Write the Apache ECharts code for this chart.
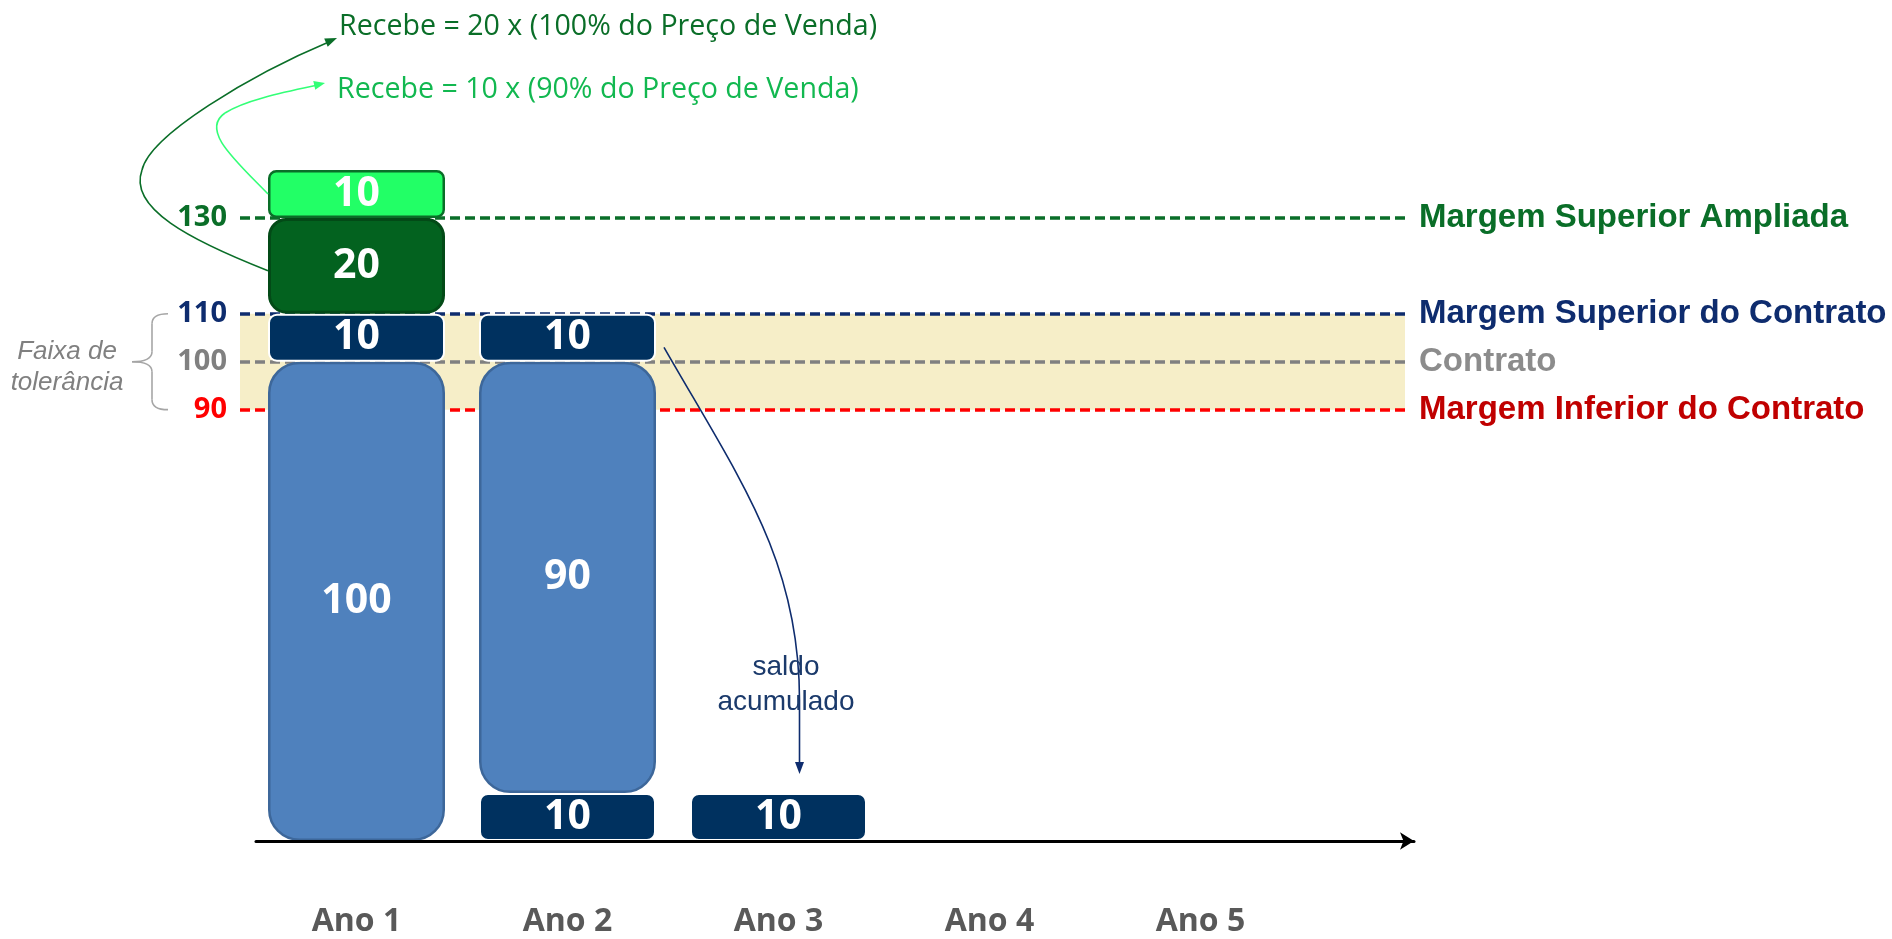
<!DOCTYPE html>
<html>
<head>
<meta charset="utf-8">
<script src="https://cdn.jsdelivr.net/npm/echarts@6/dist/echarts.min.js"></script>
<style>
  html, body { margin: 0; padding: 0; background: #fff; }
  #main { width: 1892px; height: 939px; }
</style>
</head>
<body>
<div id="main"></div>
<script>
  // dados
  const anos = ['Ano 1', 'Ano 2', 'Ano 3', 'Ano 4', 'Ano 5']
  const saldoAcumulado = ['-', 10, 10, '-', '-']
  const entregue = [100, 90, '-', '-', '-']
  const margemContrato = [10, 10, '-', '-', '-']
  const excedente100 = [20, '-', '-', '-', '-']
  const excedente90 = [10, '-', '-', '-', '-']
  const limiteValores = [130, 110, 100, 90]
  const limiteNomes = ['Margem Superior Ampliada', 'Margem Superior do Contrato', 'Contrato', 'Margem Inferior do Contrato']
  const faixaTolerancia = [90, 110]
  const yMin = 0
  const yMax = 140

  const corLinha = ['#0A6E28', '#0E2C6E', '#808080', '#FF0000']
  const corNome = ['#0A6E28', '#0E2C6E', '#8C8C8C', '#C00000']
  const navy = '#00315F'

  function barra(nome, dados, cor, borda, largBorda, raio) {
    return {
      name: nome,
      type: 'bar',
      stack: 'total',
      xAxisIndex: 0,
      yAxisIndex: 0,
      data: dados,
      barWidth: 177,
      z: 3,
      itemStyle: { color: cor, borderColor: borda, borderWidth: largBorda, borderRadius: raio },
      label: {
        show: true,
        position: 'inside',
        color: '#fff',
        fontFamily: 'Open Sans',
        fontWeight: 'bold',
        fontSize: 41
      }
    }
  }

  const option = {
    animation: false,
    backgroundColor: '#fff',
    grid: [
      { left: 251, width: 1055, top: 170, bottom: 98 },   // barras
      { left: 240, right: 487, top: 170, bottom: 98 },    // linhas de margem
      { left: 256, right: 478, top: 170, bottom: 98 }     // eixo com seta
    ],
    xAxis: [
      {
        type: 'category',
        gridIndex: 0,
        data: anos,
        axisLine: { show: false },
        axisTick: { show: false },
        axisLabel: {
          margin: 81,
          verticalAlign: 'middle',
          color: '#595959',
          fontFamily: 'Open Sans',
          fontWeight: 'bold',
          fontSize: 32
        }
      },
      { type: 'value', gridIndex: 1, min: 0, max: 1, show: false },
      {
        type: 'value',
        gridIndex: 2,
        min: 0,
        max: 1,
        z: 10,
        axisLine: {
          show: true,
          symbol: ['none', 'arrow'],
          symbolSize: [13, 14],
          lineStyle: { color: '#000', width: 3 }
        },
        axisTick: { show: false },
        axisLabel: { show: false },
        splitLine: { show: false }
      }
    ],
    yAxis: [
      { type: 'value', gridIndex: 0, min: yMin, max: yMax, show: false },
      {
        type: 'value',
        gridIndex: 1,
        min: yMin,
        max: yMax,
        interval: 10,
        axisLine: { show: false },
        axisTick: { show: false },
        splitLine: { show: false },
        axisLabel: {
          margin: 13,
          fontFamily: 'Open Sans',
          fontWeight: 'bold',
          fontSize: 29,
          formatter: function (v) {
            return limiteValores.indexOf(v) >= 0 ? String(v) : ''
          },
          color: function (v) {
            const i = limiteValores.indexOf(Number(v))
            return i >= 0 ? corLinha[i] : '#000'
          }
        }
      },
      { type: 'value', gridIndex: 2, min: yMin, max: yMax, show: false }
    ],
    series: [
      {
        name: 'limites',
        type: 'line',
        xAxisIndex: 1,
        yAxisIndex: 1,
        data: [],
        z: 1,
        silent: true,
        markArea: {
          z: 1,
          silent: true,
          itemStyle: { color: '#F6EEC8' },
          data: [[{ yAxis: faixaTolerancia[0] }, { yAxis: faixaTolerancia[1] }]]
        },
        markLine: {
          z: 2,
          silent: true,
          symbol: ['none', 'none'],
          label: {
            position: 'end',
            distance: 14,
            formatter: '{b}',
            fontFamily: 'Liberation Sans',
            fontWeight: 'bold',
            fontSize: 33
          },
          data: limiteValores.map(function (v, i) {
            return {
              yAxis: v,
              name: limiteNomes[i],
              lineStyle: { color: corLinha[i], type: [10, 5], width: 3.5 },
              label: { color: corNome[i] }
            }
          })
        }
      },
      barra('saldo acumulado', saldoAcumulado, navy, '#fff', 2, 8),
      barra('entregue', entregue, '#4F81BD', '#3D679A', 2.5, 30),
      barra('margem do contrato', margemContrato, navy, '#fff', 2, 8),
      barra('recebe 100%', excedente100, '#03621F', '#034A17', 3, 17),
      barra('recebe 90%', excedente90, '#22FF66', '#0A6E28', 2.5, 7)
    ]
  }

  const chart = echarts.init(document.getElementById('main'))
  chart.setOption(option)

  // anotações: posicionadas a partir das escalas do gráfico
  const px = function (cat, v) { return chart.convertToPixel({ gridIndex: 0 }, [cat, v]) }
  const py = function (v) { return chart.convertToPixel({ gridIndex: 1 }, [0, v])[1] }
  const meia = 177 / 2

  function curva(x1, y1, c1x, c1y, c2x, c2y, x2, y2, cor) {
    const shape = { x1: x1, y1: y1, x2: x2, y2: y2, cpx1: c1x, cpy1: c1y }
    if (c2x != null) { shape.cpx2 = c2x; shape.cpy2 = c2y }
    return {
      type: 'bezierCurve', silent: true, z: 20,
      shape: shape,
      style: { fill: 'none', stroke: cor, lineWidth: 1.6 }
    }
  }

  function reta(x1, y1, x2, y2, cor) {
    return {
      type: 'line', silent: true, z: 20,
      shape: { x1: x1, y1: y1, x2: x2, y2: y2 },
      style: { stroke: cor, lineWidth: 1.6 }
    }
  }

  function seta(tx, ty, fx, fy, cor, comp, larg) {
    const d = Math.hypot(tx - fx, ty - fy)
    const ux = (tx - fx) / d, uy = (ty - fy) / d
    const bx = tx - ux * comp, by = ty - uy * comp
    return {
      type: 'polygon',
      silent: true,
      z: 20,
      shape: { points: [[tx, ty], [bx - uy * larg, by + ux * larg], [bx + uy * larg, by - ux * larg]] },
      style: { fill: cor }
    }
  }

  const a1 = px('Ano 1', 119)
  const a2 = px('Ano 1', 135)
  const a3 = px('Ano 2', 103)
  const a3fim = px('Ano 3', 14)
  const s1 = [a1[0] - meia, a1[1]]
  const s2 = [a2[0] - meia, a2[1]]
  const s3 = [a3[0] + meia + 8, a3[1]]
  const t3 = [a3fim[0] + 21, a3fim[1]]
  const yTop = py(faixaTolerancia[1])
  const yBot = py(faixaTolerancia[0])
  const yMid = (yTop + yBot) / 2
  const verdeEsc = '#0A6E28'
  const verdeClaro = '#33FF77'
  const azul = '#0E2C6E'
  const cinza = '#A6A6A6'

  chart.setOption({
    graphic: [
      curva(s1[0], s1[1], 190, 240, 128, 208, 142, 170, verdeEsc),
      curva(142, 170, 150, 135, 250, 75, 331, 41, verdeEsc),
      seta(337, 38, 250, 75, verdeEsc, 12, 4.5),
      curva(s2[0], s2[1], 235, 160, 200, 130, 225, 113, verdeClaro),
      curva(225, 113, 245, 100, 285, 92, 318, 85, verdeClaro),
      seta(325, 83, 285, 92, verdeClaro, 11, 4.5),
      curva(s3[0], s3[1], 740, 480, t3[0], 560, t3[0], 700, azul),
      reta(t3[0], 700, t3[0], t3[1] - 8, azul),
      seta(t3[0], t3[1], t3[0], t3[1] - 20, azul, 12, 4.5),
      // chave da faixa de tolerância
      curva(168, yTop, 152, yTop, null, null, 152, yTop + 10, cinza),
      reta(152, yTop + 10, 152, yMid - 10, cinza),
      curva(152, yMid - 10, 152, yMid, null, null, 132, yMid, cinza),
      curva(132, yMid, 152, yMid, null, null, 152, yMid + 10, cinza),
      reta(152, yMid + 10, 152, yBot - 10, cinza),
      curva(152, yBot - 10, 152, yBot, null, null, 168, yBot, cinza),
      {
        type: 'text', silent: true, z: 20, x: 339, y: 27,
        style: {
          text: 'Recebe = 20 x (100% do Preço de Venda)',
          fill: '#0A6E28', fontFamily: 'Open Sans', fontSize: 28.6,
          align: 'left', verticalAlign: 'middle'
        }
      },
      {
        type: 'text', silent: true, z: 20, x: 337, y: 90,
        style: {
          text: 'Recebe = 10 x (90% do Preço de Venda)',
          fill: '#12B850', fontFamily: 'Open Sans', fontSize: 28.6,
          align: 'left', verticalAlign: 'middle'
        }
      },
      {
        type: 'text', silent: true, z: 20, x: 67, y: yMid + 6,
        style: {
          text: 'Faixa de\ntolerância',
          fill: '#808080', fontFamily: 'Liberation Sans', fontStyle: 'italic', fontSize: 26,
          lineHeight: 31, align: 'center', verticalAlign: 'middle'
        }
      },
      {
        type: 'text', silent: true, z: 20, x: 786, y: 685,
        style: {
          text: 'saldo\nacumulado',
          fill: '#1B3A6B', fontFamily: 'Liberation Sans', fontSize: 28,
          lineHeight: 35, align: 'center', verticalAlign: 'middle'
        }
      }
    ]
  })
</script>
</body>
</html>
